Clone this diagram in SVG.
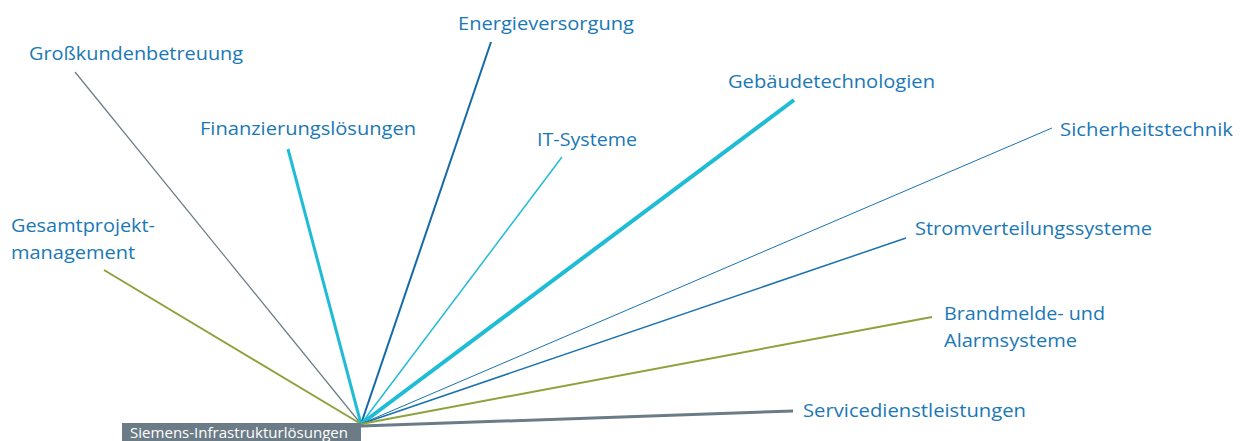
<svg xmlns="http://www.w3.org/2000/svg" width="1242" height="441" viewBox="0 0 1242 441">
<style>
.lbl{font-family:"Open Sans","Noto Sans","Liberation Sans",sans-serif;font-size:19px;fill:#1a78b6}
.root{font-family:"Open Sans","Noto Sans","Liberation Sans",sans-serif;font-size:14px;fill:#ffffff}
.c{fill:none;stroke-linecap:butt}
.gray{stroke:#6b7c86}
.green{stroke:#8da23b}
.cyan{stroke:#1fbcd5}
.blue{stroke:#1a72b0}
</style>
<rect width="1242" height="441" fill="#ffffff"/>
<g id="connectors">
<line class="c gray" x1="75" y1="72" x2="361" y2="424" stroke-width="1.2"/>
<line class="c green" x1="104" y1="270" x2="361" y2="424" stroke-width="2"/>
<line class="c cyan" x1="288" y1="149" x2="361" y2="424" stroke-width="3"/>
<line class="c blue" x1="491" y1="42" x2="361" y2="424" stroke-width="2" style="stroke:#136aa8"/>
<line class="c cyan" x1="562" y1="157" x2="361" y2="424" stroke-width="1.5"/>
<line class="c cyan" x1="794" y1="100" x2="361" y2="424" stroke-width="4"/>
<line class="c blue" x1="1052" y1="128" x2="361" y2="424" stroke-width="1"/>
<line class="c blue" x1="906" y1="238" x2="361" y2="424" stroke-width="1.5"/>
<line class="c green" x1="932" y1="317" x2="361" y2="424" stroke-width="2"/>
<line class="c gray" x1="793" y1="411" x2="361" y2="426" stroke-width="3"/>
</g>
<g id="root">
<rect x="122" y="423" width="239" height="18" fill="#6b7c86"/>
<text class="root" x="130" y="438" textLength="218" lengthAdjust="spacingAndGlyphs">Siemens-Infrastrukturlösungen</text>
</g>
<g id="n-grosskunden"><text class="lbl" x="29" y="60" textLength="214" lengthAdjust="spacingAndGlyphs">Großkundenbetreuung</text></g>
<g id="n-energie"><text class="lbl" x="458" y="30" textLength="176" lengthAdjust="spacingAndGlyphs">Energieversorgung</text></g>
<g id="n-gebaeude"><text class="lbl" x="728" y="88" textLength="207" lengthAdjust="spacingAndGlyphs">Gebäudetechnologien</text></g>
<g id="n-finanz"><text class="lbl" x="200" y="135" textLength="216" lengthAdjust="spacingAndGlyphs">Finanzierungslösungen</text></g>
<g id="n-it"><text class="lbl" x="537" y="146" textLength="100" lengthAdjust="spacingAndGlyphs">IT-Systeme</text></g>
<g id="n-sicherheit"><text class="lbl" x="1060" y="136" textLength="173" lengthAdjust="spacingAndGlyphs">Sicherheitstechnik</text></g>
<g id="n-gesamt">
<text class="lbl" x="11" y="232" textLength="144" lengthAdjust="spacingAndGlyphs">Gesamtprojekt-</text>
<text class="lbl" x="11" y="259" textLength="124" lengthAdjust="spacingAndGlyphs">management</text>
</g>
<g id="n-strom"><text class="lbl" x="915" y="235" textLength="237" lengthAdjust="spacingAndGlyphs">Stromverteilungssysteme</text></g>
<g id="n-brand">
<text class="lbl" x="944" y="320" textLength="161" lengthAdjust="spacingAndGlyphs">Brandmelde- und</text>
<text class="lbl" x="944" y="347" textLength="133" lengthAdjust="spacingAndGlyphs">Alarmsysteme</text>
</g>
<g id="n-service"><text class="lbl" x="803" y="417" textLength="223" lengthAdjust="spacingAndGlyphs">Servicedienstleistungen</text></g>
</svg>
